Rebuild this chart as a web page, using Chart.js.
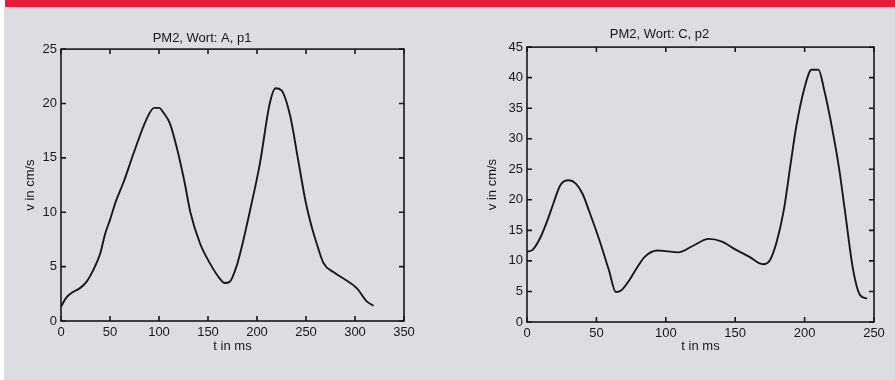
<!DOCTYPE html>
<html>
<head>
<meta charset="utf-8">
<script src="https://cdn.jsdelivr.net/npm/chart.js@4.4.1/dist/chart.umd.min.js"></script>
<style>
  body { margin: 0; background: #fff; }
  #page { position: relative; width: 895px; height: 380px; overflow: hidden; }
  #bar { position: absolute; left: 5px; top: 0; width: 890px; height: 7px; background: #e51c3d; }
  #panel { position: absolute; left: 4px; top: 7px; width: 891px; height: 373px; background: #dcdde0; }
  canvas { position: absolute; top: 0; }
  #chartOne { left: 0; }
  #chartTwo { left: 445px; }
</style>
</head>
<body>
<div id="page">
  <div id="bar"></div>
  <div id="panel"></div>
  <canvas id="chartOne" width="445" height="380"></canvas>
  <canvas id="chartTwo" width="450" height="380"></canvas>
</div>
<script>
// PM2, Wort: A, p1
const timeA = [0, 5, 11, 19, 26, 33, 40, 45, 50, 56, 64, 74, 87, 95, 100, 105, 111, 118, 126, 132, 142, 152, 162, 167, 172, 179, 186, 193, 203, 213, 219, 225, 234, 242, 250, 256, 261, 268, 278, 291, 302, 312, 319];
const speedA = [1.3, 2.1, 2.6, 3.0, 3.6, 4.7, 6.2, 8.0, 9.3, 11.0, 12.8, 15.4, 18.5, 19.6, 19.6, 19.1, 18.2, 16.0, 12.8, 10.0, 7.1, 5.3, 3.9, 3.5, 3.6, 5.0, 7.4, 10.2, 14.5, 20.0, 21.4, 21.2, 18.8, 14.8, 10.8, 8.6, 7.1, 5.3, 4.5, 3.75, 3.0, 1.8, 1.4];

// PM2, Wort: C, p2
const timeC = [0, 4, 10, 14, 19, 24, 30, 35, 40, 45, 52, 59, 64, 68, 73, 79, 85, 94, 100, 109, 119, 131, 140, 150, 160, 170, 175, 180, 185, 190, 194, 200, 205, 210, 214, 220, 225, 229, 235, 240, 245];
const speedC = [11.5, 11.8, 14.0, 16.2, 19.4, 22.4, 23.2, 22.7, 21.0, 18.0, 13.5, 8.5, 4.9, 5.2, 6.6, 8.8, 10.7, 11.7, 11.6, 11.4, 12.4, 13.6, 13.2, 11.9, 10.7, 9.45, 10.1, 13.2, 18.3, 26, 32, 38.4, 41.3, 41.3, 38.1, 31.5, 24.9, 18.3, 8.5, 4.4, 3.85];

const inkColor = '#181818';
const textFont = { family: '"Liberation Sans", Arial, sans-serif', size: 13, weight: 'normal' };

// matlab style box with inward ticks on all four sides
const boxPlugin = {
  id: 'box',
  afterDraw(chart) {
    const { ctx, chartArea: a, scales: { x, y } } = chart;
    ctx.save();
    ctx.strokeStyle = inkColor;
    ctx.lineWidth = 1.6;
    ctx.strokeRect(a.left, a.top, a.right - a.left, a.bottom - a.top);
    ctx.beginPath();
    x.ticks.forEach(t => {
      const px = x.getPixelForValue(t.value);
      ctx.moveTo(px, a.bottom); ctx.lineTo(px, a.bottom - 5);
      ctx.moveTo(px, a.top); ctx.lineTo(px, a.top + 5);
    });
    y.ticks.forEach(t => {
      const py = y.getPixelForValue(t.value);
      ctx.moveTo(a.left, py); ctx.lineTo(a.left + 5, py);
      ctx.moveTo(a.right, py); ctx.lineTo(a.right - 5, py);
    });
    ctx.stroke();
    ctx.restore();
  }
};

function makeChart(el, cfg) {
  return new Chart(el, {
    type: 'line',
    data: {
      datasets: [{
        data: cfg.times.map((t, i) => ({ x: t, y: cfg.speeds[i] })),
        borderColor: inkColor,
        borderWidth: 1.9,
        pointRadius: 0,
        cubicInterpolationMode: 'monotone'
      }]
    },
    options: {
      animation: false,
      responsive: false,
      devicePixelRatio: 1,
      layout: { padding: cfg.pad },
      plugins: {
        legend: { display: false },
        tooltip: { enabled: false },
        title: {
          display: true,
          text: cfg.title,
          color: inkColor,
          font: textFont,
          padding: cfg.titlePad
        }
      },
      scales: {
        x: {
          type: 'linear',
          min: 0,
          max: cfg.xMax,
          grid: { display: false, drawTicks: false, tickLength: 0 },
          border: { display: false },
          ticks: { stepSize: 50, color: inkColor, font: textFont, padding: 4 },
          title: { display: true, text: 't in ms', color: inkColor, font: textFont, padding: { top: 0, bottom: cfg.xTitlePad } },
          afterFit(scale) { scale.height = 35; }
        },
        y: {
          min: 0,
          max: cfg.yMax,
          grid: { display: false, drawTicks: false, tickLength: 0 },
          border: { display: false },
          ticks: { stepSize: 5, color: inkColor, font: textFont, padding: 4 },
          title: { display: true, text: 'v in cm/s', color: inkColor, font: textFont, padding: { top: cfg.yTitlePad, bottom: 0 } },
          afterFit(scale) { scale.width = cfg.yWidth; }
        }
      }
    },
    plugins: [boxPlugin]
  });
}

makeChart(document.getElementById('chartOne'), {
  times: timeA, speeds: speedA, title: 'PM2, Wort: A, p1',
  xMax: 350, yMax: 25, yWidth: 61, yTitlePad: 23, xTitlePad: 2,
  pad: { left: 0, right: 41, top: 0, bottom: 24 },
  titlePad: { top: 30.5, bottom: 3 }
});

makeChart(document.getElementById('chartTwo'), {
  times: timeC, speeds: speedC, title: 'PM2, Wort: C, p2',
  xMax: 250, yMax: 45, yWidth: 82, yTitlePad: 40, xTitlePad: 2.5,
  pad: { left: 0, right: 21, top: 0, bottom: 23 },
  titlePad: { top: 26.5, bottom: 5 }
});
</script>
</body>
</html>
